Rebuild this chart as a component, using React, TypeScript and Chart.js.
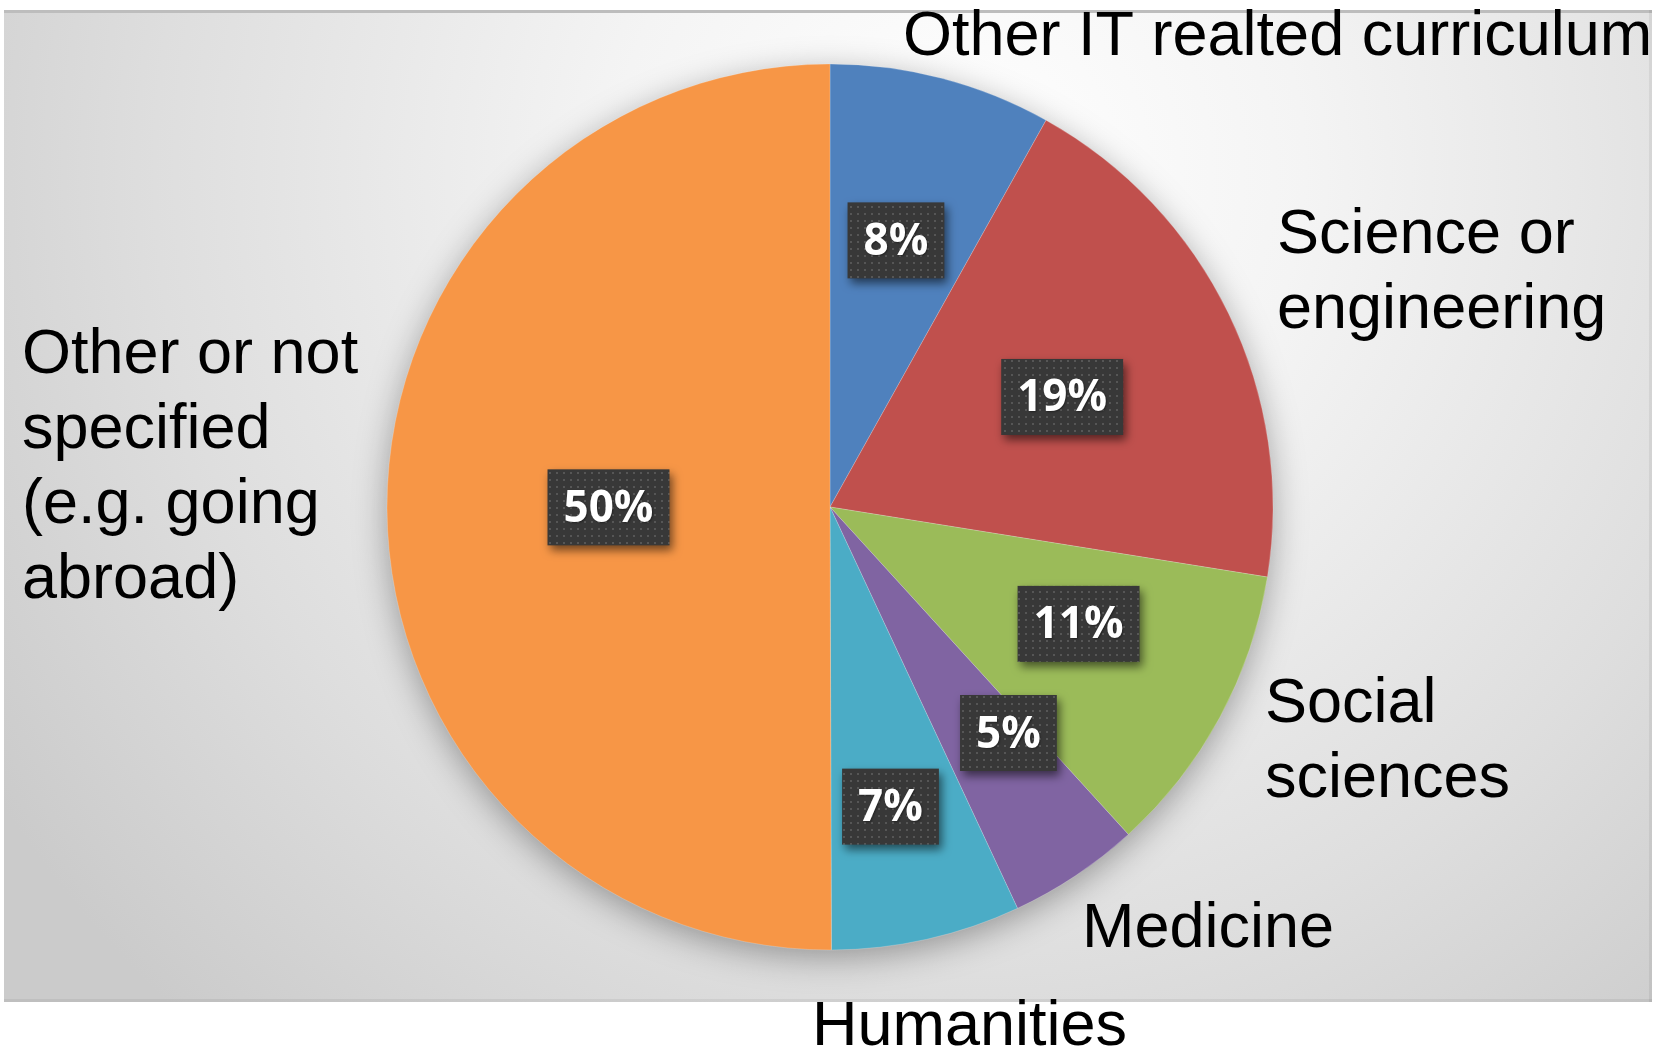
import React, { useEffect, useRef } from "react";
import { Chart, registerables } from "chart.js";

Chart.register(...registerables);

// ---- data ----
const categories = [
  "Other IT realted curriculum",
  "Science or engineering",
  "Social sciences",
  "Medicine",
  "Humanities",
  "Other or not specified (e.g. going abroad)",
];
const shares = [8.1, 19.4, 10.7, 4.8, 6.9, 50];
const sliceColors = ["#4F81BD", "#C0504D", "#9BBB59", "#8064A2", "#4BACC6", "#F79646"];
const labelLines = [
  ["Other IT realted curriculum"],
  ["Science or", "engineering"],
  ["Social", "sciences"],
  ["Medicine"],
  ["Humanities"],
  ["Other or not", "specified", "(e.g. going", "abroad)"],
];

// ---- layout (not data) ----
const W = 1657;
const H = 1051;
const PIE_RADIUS = 443;
const labelAnchors = [
  [903, 55],
  [1277, 253],
  [1265, 722],
  [1082, 947],
  [812, 1045],
  [22, 373],
];
const boxRadialFraction = [0.62, 0.58, 0.62, 0.65, 0.69, 0.5];
const boxAngleShiftDeg = [-0.7, 0.5, -3.2, -4.6, 1.2, 0];
const LABEL_FONT = "63px 'Liberation Sans', Arial, sans-serif";
const LINE_H = 75;
const BOX_FONT = "bold 44px 'Open Sans', 'Noto Sans', sans-serif";

function makePattern(ctx: CanvasRenderingContext2D) {
  const pc = document.createElement("canvas");
  pc.width = 7;
  pc.height = 7;
  const p = pc.getContext("2d")!;
  p.fillStyle = "#383838";
  p.fillRect(0, 0, 7, 7);
  p.fillStyle = "#565656";
  p.fillRect(3, 3, 2, 2);
  return ctx.createPattern(pc, "repeat");
}

const backgroundPlugin = {
  id: "bgFrame",
  beforeDraw(chart: any) {
    const ctx: CanvasRenderingContext2D = chart.ctx;
    ctx.save();
    ctx.fillStyle = "#ffffff";
    ctx.fillRect(0, 0, W, H);
    const x0 = 4, y0 = 10, x1 = 1652, y1 = 1002;
    const g = ctx.createRadialGradient(960, 170, 0, 960, 170, 1150);
    g.addColorStop(0, "#ffffff");
    g.addColorStop(0.3, "#f4f4f4");
    g.addColorStop(0.7, "#dedede");
    g.addColorStop(1, "#cbcbcb");
    ctx.fillStyle = g;
    ctx.fillRect(x0, y0, x1 - x0, y1 - y0);
    // top bevel
    ctx.fillStyle = "#bdbdbd";
    ctx.fillRect(x0, y0, x1 - x0, 3);
    ctx.fillStyle = "rgba(0,0,0,0.06)";
    ctx.fillRect(x0, y1 - 3, x1 - x0, 3);
    ctx.fillRect(x1 - 3, y0, 3, y1 - y0);
    ctx.restore();
  },
};

const pieShadowPlugin = {
  id: "pieShadow",
  beforeDatasetsDraw(chart: any) {
    const meta = chart.getDatasetMeta(0);
    const arc = meta.data[0];
    if (!arc) return;
    const ctx: CanvasRenderingContext2D = chart.ctx;
    ctx.save();
    ctx.shadowColor = "rgba(0,0,0,0.35)";
    ctx.shadowBlur = 34;
    ctx.shadowOffsetX = 0;
    ctx.shadowOffsetY = 8;
    ctx.fillStyle = "#d8d8d8";
    ctx.beginPath();
    ctx.arc(arc.x, arc.y, arc.outerRadius - 1, 0, Math.PI * 2);
    ctx.fill();
    ctx.restore();
  },
};

const labelsPlugin = {
  id: "customLabels",
  afterDatasetsDraw(chart: any) {
    const ctx: CanvasRenderingContext2D = chart.ctx;
    const meta = chart.getDatasetMeta(0);
    const values: number[] = chart.data.datasets[0].data;
    const total = values.reduce((a, b) => a + b, 0);
    const pattern = makePattern(ctx);

    meta.data.forEach((arc: any, i: number) => {
      const mid = (arc.startAngle + arc.endAngle) / 2 + (boxAngleShiftDeg[i] * Math.PI) / 180;
      const r = arc.outerRadius * boxRadialFraction[i];
      const cx = arc.x + Math.cos(mid) * r;
      const cy = arc.y + Math.sin(mid) * r;
      const text = Math.round((values[i] / total) * 100) + "%";
      ctx.save();
      ctx.font = BOX_FONT;
      const tw = ctx.measureText(text).width;
      const bw = tw + 32;
      const bh = 76;
      ctx.shadowColor = "rgba(0,0,0,0.55)";
      ctx.shadowBlur = 10;
      ctx.shadowOffsetX = 3;
      ctx.shadowOffsetY = 5;
      ctx.fillStyle = pattern || "#3a3a3a";
      ctx.fillRect(cx - bw / 2, cy - bh / 2, bw, bh);
      ctx.shadowColor = "rgba(0,0,0,0.4)";
      ctx.shadowBlur = 2;
      ctx.shadowOffsetX = 1;
      ctx.shadowOffsetY = 1;
      ctx.fillStyle = "#ffffff";
      ctx.textAlign = "center";
      ctx.textBaseline = "middle";
      ctx.fillText(text, cx, cy + 2);
      ctx.restore();
    });

    ctx.save();
    ctx.font = LABEL_FONT;
    ctx.fillStyle = "#000000";
    ctx.textAlign = "left";
    ctx.textBaseline = "alphabetic";
    labelLines.forEach((lines, i) => {
      const [x, y] = labelAnchors[i];
      lines.forEach((ln, j) => ctx.fillText(ln, x, y + j * LINE_H));
    });
    ctx.restore();
  },
};

export default function App() {
  const canvasRef = useRef<HTMLCanvasElement | null>(null);

  useEffect(() => {
    const canvas = canvasRef.current;
    if (!canvas) return;
    const chart = new Chart(canvas, {
      type: "pie",
      data: {
        labels: categories,
        datasets: [
          {
            data: shares,
            backgroundColor: sliceColors,
            borderColor: "rgba(255,255,255,0.2)",
            borderWidth: 1,
          },
        ],
      },
      options: {
        responsive: false,
        animation: false,
        events: [],
        radius: PIE_RADIUS,
        layout: { padding: { left: 3, right: 0, top: 0, bottom: 37 } },
        plugins: {
          legend: { display: false },
          tooltip: { enabled: false },
          title: { display: false },
        },
      } as any,
      plugins: [backgroundPlugin, pieShadowPlugin, labelsPlugin],
    });
    return () => chart.destroy();
  }, []);

  return (
    <div style={{ position: "absolute", left: 0, top: 0, width: W, height: H }}>
      <canvas ref={canvasRef} width={W} height={H} style={{ display: "block", width: W, height: H }} />
    </div>
  );
}
